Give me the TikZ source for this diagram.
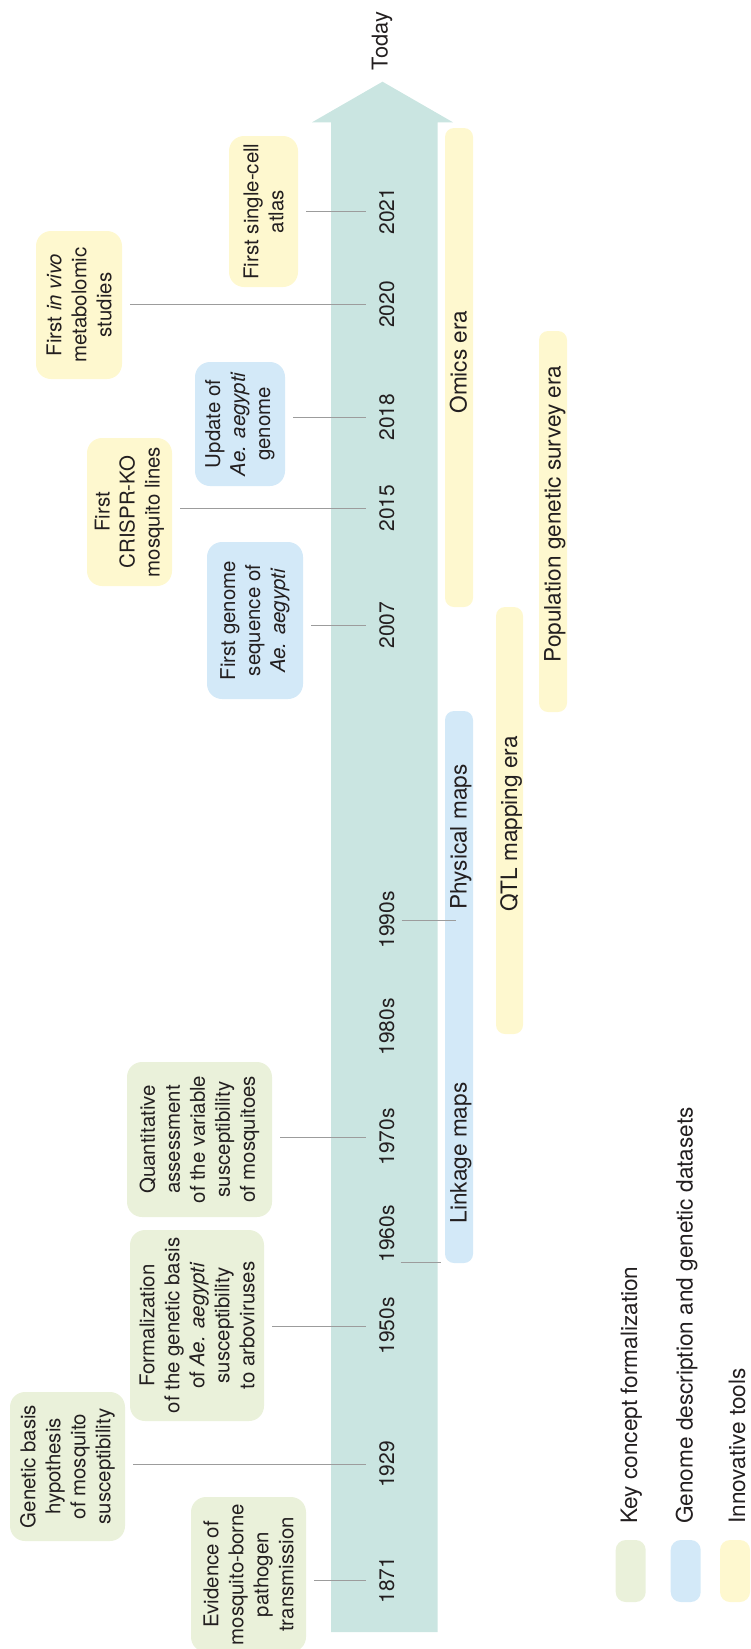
\documentclass[tikz,border=0pt]{standalone}
\usepackage{fontspec}
\setmainfont{TeX Gyre Heros}
\definecolor{stemc}{HTML}{CAE5E1}
\definecolor{kgreen}{HTML}{EAF1DA}
\definecolor{gblue}{HTML}{D3E9F8}
\definecolor{tyel}{HTML}{FEF8CF}
\definecolor{lgray}{HTML}{9C9C9C}
\definecolor{txt}{HTML}{231F20}
\newcommand\ftbox{\fontsize{20.4}{25}\selectfont}
\newcommand\ftyear{\fontsize{21}{25}\selectfont}
\newcommand\ftlabel{\fontsize{22.6}{27}\selectfont}
\begin{document}
\begin{tikzpicture}[x=1pt,y=-1pt,
  evbox/.style={rotate=90, rounded corners=15pt, align=center, inner sep=0pt, font=\ftbox, text=txt},
  gbox/.style={evbox, fill=kgreen},
  bbox/.style={evbox, fill=gblue},
  ybox/.style={evbox, fill=tyel},
  yr/.style={rotate=90, anchor=base, font=\ftyear, inner sep=0pt, text=txt},
  bar/.style={rounded corners=9pt, minimum width=28pt, inner sep=0pt},
  barlbl/.style={rotate=90, anchor=base, font=\ftlabel, inner sep=0pt, text=txt},
  conn/.style={draw=lgray, line width=1pt},
  legbox/.style={rounded corners=10pt, minimum width=30pt, minimum height=62pt, inner sep=0pt},
  legtxt/.style={rotate=90, anchor=base west, font=\ftlabel, inner sep=0pt, text=txt}
]
\useasboundingbox (0,0) rectangle (751,1649);

% timeline arrow
\fill[stemc] (331,1632) -- (331,122.3) -- (312,122.3) -- (382.5,81.7) -- (453,122.3) -- (437.5,122.3) -- (437.5,1632) -- cycle;
\node[rotate=90, anchor=base, font=\fontsize{21.8}{26}\selectfont, inner sep=0pt, text=txt] (today) at (387.5,41) {Today};

% era bars
\node[bar, fill=tyel, minimum height=479pt] (omics) at (459,367.5) {};
\node[barlbl] (omicst) at (466.5,362) {Omics era};
\node[bar, fill=gblue, minimum height=552pt] (maps) at (459,987) {};
\node[barlbl] (physt) at (466.5,837) {Physical maps};
\node[barlbl] (linkt) at (466.5,1153) {Linkage maps};
\node[bar, fill=tyel, minimum width=27pt, minimum height=427pt] (qtl) at (509.5,820.5) {};
\node[barlbl] (qtlt) at (517,824) {QTL mapping era};
\node[bar, fill=tyel, minimum height=381pt] (pop) at (553,521.5) {};
\node[barlbl] (popt) at (560.5,514) {Population genetic survey era};

% event boxes
\node[ybox, minimum width=151pt, minimum height=69pt] (sc) at (263.5,211.5) {First single-cell\\atlas};
\node[ybox, minimum width=148pt, minimum height=86pt] (vivo) at (79,305) {First \textit{in vivo}\\metabolomic\\studies};
\node[bbox, minimum width=124pt, minimum height=90pt] (upd) at (240,424) {Update of\\\textit{Ae. aegypti}\\genome};
\node[ybox, minimum width=148pt, minimum height=85pt] (crispr) at (129.5,512) {First\\CRISPR-KO\\mosquito lines};
\node[bbox, minimum width=157pt, minimum height=96pt] (gen) at (255,620.5) {First genome\\sequence of\\\textit{Ae. aegypti}};
\node[gbox, minimum width=155pt, minimum height=145pt] (quant) at (199.5,1139.5) {Quantitative\\assessment\\of the variable\\susceptibility\\of mosquitoes};
\node[gbox, minimum width=191pt, minimum height=134pt] (form) at (197,1325.5) {Formalization\\of the genetic basis\\of \textit{Ae. aegypti}\\susceptibility\\to arboviruses};
\node[gbox, minimum width=149pt, minimum height=115pt] (hyp) at (67.5,1466.5) {Genetic basis\\hypothesis\\of mosquito\\susceptibility};
\node[gbox, minimum width=155pt, minimum height=115pt] (evid) at (248.5,1574.5) {Evidence of\\mosquito-borne\\pathogen\\transmission};

% year labels
\node[yr] (y2021) at (394,211) {2021};
\node[yr] (y2020) at (394,304.5) {2020};
\node[yr] (y2018) at (394,417) {2018};
\node[yr] (y2015) at (394,508) {2015};
\node[yr] (y2007) at (394,625) {2007};
\node[yr] (y1990) at (394,920) {1990s};
\node[yr] (y1980) at (394,1027) {1980s};
\node[yr] (y1970) at (394,1137) {1970s};
\node[yr] (y1960) at (394,1234) {1960s};
\node[yr] (y1950) at (394,1326) {1950s};
\node[yr] (y1929) at (394,1464.5) {1929};
\node[yr] (y1871) at (394,1580) {1871};

% connectors
\foreach \b/\y in {sc/y2021, vivo/y2020, upd/y2018, crispr/y2015, gen/y2007, quant/y1970, form/y1950, hyp/y1929, evid/y1871}
  \draw[conn, shorten <=8pt, shorten >=13pt] (\y.north -| \b.south) -- (\y.north);
\draw[conn, shorten <=7pt, shorten >=-11pt] (y1990.south) -- (y1990.south -| maps.west);
\draw[conn, shorten <=6pt, shorten >=4pt] (y1960.south west) -- (y1960.south west -| maps.west);

% legend
\node[legbox, fill=kgreen] (lg1) at (630.7,1571) {};
\node[legbox, fill=gblue] (lg2) at (685.7,1571) {};
\node[legbox, fill=tyel] (lg3) at (735,1571) {};
\node[legtxt] (lt1) at (637,1524) {Key concept formalization};
\node[legtxt] (lt2) at (692.5,1524) {Genome description and genetic datasets};
\node[legtxt] (lt3) at (745,1524) {Innovative tools};
\end{tikzpicture}
\end{document}
